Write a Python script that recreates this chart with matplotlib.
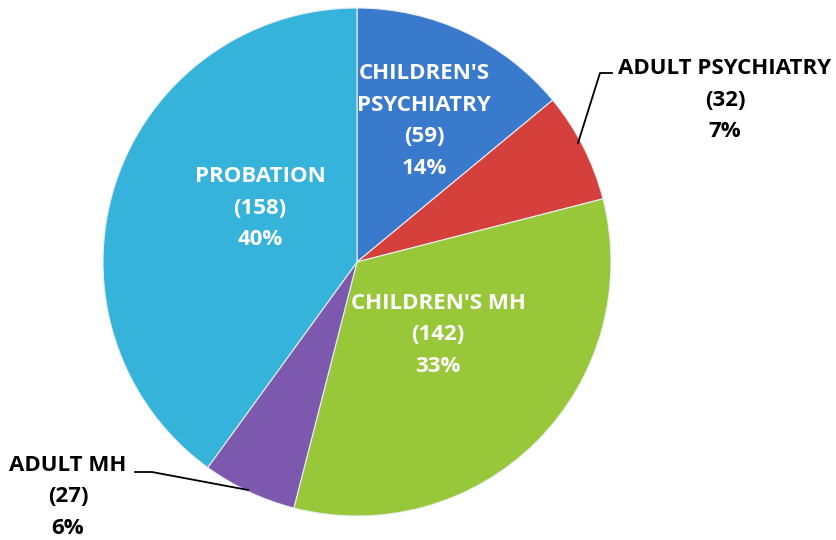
import matplotlib.pyplot as plt

categories = ["CHILDREN'S\nPSYCHIATRY", "ADULT PSYCHIATRY", "CHILDREN'S MH", "ADULT MH", "PROBATION"]
counts = [59, 32, 142, 27, 158]
percents = [14, 7, 33, 6, 40]
colors = ['#3a7acd', '#d6403c', '#98c83a', '#7c58ae', '#36b3da']

plt.rcParams['font.family'] = ['Open Sans', 'DejaVu Sans']

fig = plt.figure(figsize=(8.37, 5.4), dpi=100)
ax = fig.add_axes([0, 0, 1, 1])

# pie drawn in pixel-ish coords so labels can sit where they are in the original
cx, cy, r = 357, 278, 254
wedges, _ = ax.pie(percents, colors=colors, startangle=90, counterclock=False,
                   center=(cx, cy), radius=r,
                   wedgeprops=dict(edgecolor='#e8eef4', linewidth=0.8))
ax.set_xlim(0, 837)
ax.set_ylim(0, 540)
ax.set_aspect('equal')
ax.axis('off')

def lab(i):
    return '%s\n(%d)\n%d%%' % (categories[i], counts[i], percents[i])

fs = 16
ls = 1.66
# inside labels
ax.text(424, 540 - 121, lab(0), color='white', fontsize=fs, fontweight='bold',
        ha='center', va='center', linespacing=ls)
ax.text(438, 540 - 335, lab(2), color='white', fontsize=fs, fontweight='bold',
        ha='center', va='center', linespacing=ls)
ax.text(260, 540 - 208, lab(4), color='white', fontsize=fs, fontweight='bold',
        ha='center', va='center', linespacing=ls)
# outside labels with leader lines
ax.text(725, 540 - 100, lab(1), color='black', fontsize=fs, fontweight='bold',
        ha='center', va='center', linespacing=ls)
ax.plot([612, 600, 578], [540 - 73, 540 - 73, 540 - 143], color='black', lw=1.3)
ax.text(68, 540 - 497, lab(3), color='black', fontsize=fs, fontweight='bold',
        ha='center', va='center', linespacing=ls)
ax.plot([135, 152, 248], [540 - 472, 540 - 472, 540 - 490], color='black', lw=1.3)

fig.savefig('out.png', dpi=100)
